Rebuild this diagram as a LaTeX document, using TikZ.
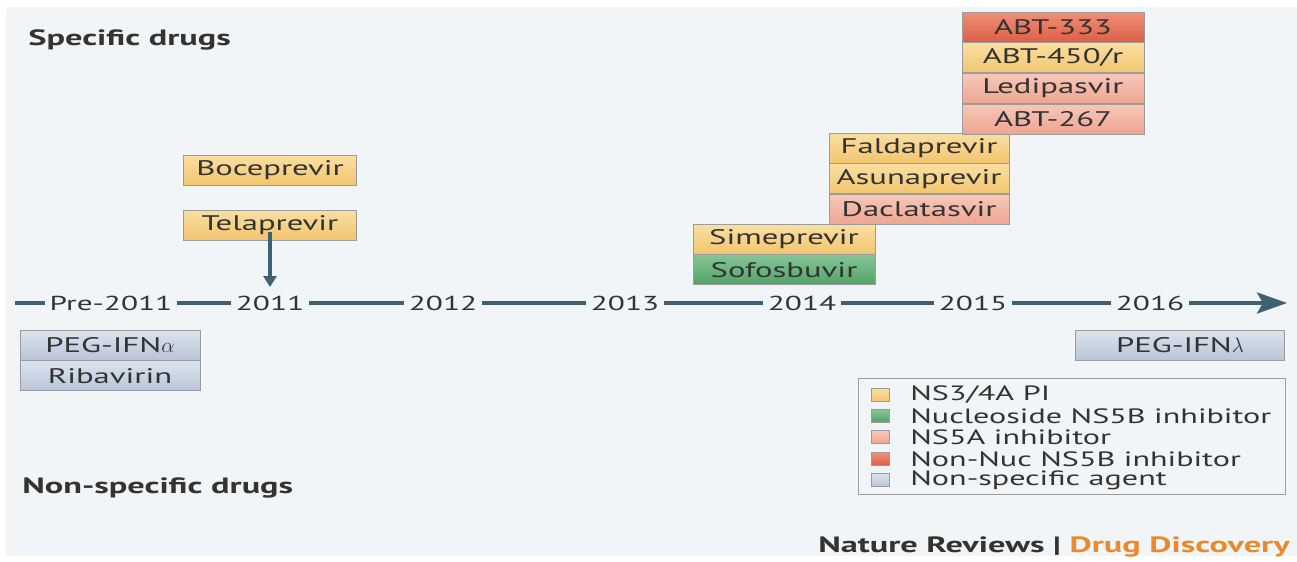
\documentclass[tikz,border=0pt]{standalone}
\usepackage{fontspec}
\setmainfont{PT Sans}[FakeStretch=1.55]
\usepackage{xcolor}
\usetikzlibrary{positioning,arrows.meta}

\definecolor{panel}{HTML}{F2F5F7}
\definecolor{txt}{HTML}{333333}
\definecolor{edge}{HTML}{9C9C9C}
\definecolor{axis}{HTML}{3E6070}
\definecolor{piTop}{HTML}{FADFA2}\definecolor{piBot}{HTML}{F2C56E}
\definecolor{nucTop}{HTML}{86C596}\definecolor{nucBot}{HTML}{52A368}
\definecolor{nsaTop}{HTML}{F7C7BA}\definecolor{nsaBot}{HTML}{EEA590}
\definecolor{nonTop}{HTML}{F09078}\definecolor{nonBot}{HTML}{DE5E46}
\definecolor{unsTop}{HTML}{DCE3EE}\definecolor{unsBot}{HTML}{B8C5D9}
\definecolor{brand}{HTML}{E88B2E}

\tikzset{
  drug/.style={draw=edge, rectangle, minimum height=0.6cm, inner sep=0pt,
    text=txt, font=\fontsize{12}{14}\selectfont},
  pi/.style={drug, top color=piTop, bottom color=piBot},
  nuc/.style={drug, top color=nucTop, bottom color=nucBot},
  nsa/.style={drug, top color=nsaTop, bottom color=nsaBot},
  nonnuc/.style={drug, top color=nonTop, bottom color=nonBot},
  unspec/.style={drug, top color=unsTop, bottom color=unsBot},
  year/.style={fill=panel, text=txt, inner xsep=0.1cm, inner ysep=2pt,
    font=\fontsize{11.5}{13}\selectfont},
  swatch/.style={draw=edge, minimum width=0.36cm, minimum height=0.26cm, inner sep=0pt},
  keytext/.style={anchor=west, text=txt, inner sep=0pt,
    font=\fontsize{11.8}{13}\selectfont},
  heading/.style={anchor=west, text=txt, inner sep=0pt,
    font=\bfseries\fontsize{12.6}{14}\selectfont}
}

\begin{document}
\begin{tikzpicture}[x=0.02cm, y=-0.02cm]
    % frame
    \fill[white] (0,0) rectangle (1297,561);
    \fill[panel] (6,7) rectangle (1297,556);
    \useasboundingbox (0,0) rectangle (1297,561);

    % axis
    \coordinate (tstart) at (15,303);
    \coordinate (tend) at (1287,303);
    \draw[axis, line width=2.3pt, -{Stealth[length=0.6cm, width=0.42cm, inset=0.12cm]}] (tstart) -- (tend);
    \node[year] (ypre) at (111,303) {Pre-2011};
    \node[year] (y11) at (270,303) {2011};
    \node[year] (y12) at (443,303) {2012};
    \node[year] (y13) at (625,303) {2013};
    \node[year] (y14) at (802,303) {2014};
    \node[year] (y15) at (973,303) {2015};
    \node[year] (y16) at (1150,303) {2016};

    % 2011
    \node[pi, minimum width=3.46cm] (bocep) at (270,170) {Boceprevir};
    \node[pi, minimum width=3.46cm] (telap) at (270,225) {Telaprevir};
    \coordinate (telapend) at (270,287);
    \draw[axis, line width=1.8pt, -{Triangle[length=0.22cm, width=0.26cm]}] (telap.south) ++(0,-8) -- (telapend);

    % 2014
    \node[pi, minimum width=3.64cm] (simep) at (784,239) {Simeprevir};
    \node[nuc, minimum width=3.64cm, below=0pt of simep] (sofos) {Sofosbuvir};

    % 2015
    \node[pi, minimum width=3.6cm] (faldap) at (919,148) {Faldaprevir};
    \node[pi, minimum width=3.6cm, below=0pt of faldap] (asunap) {Asunaprevir};
    \node[nsa, minimum width=3.6cm, below=0pt of asunap] (daclat) {Daclatasvir};

    % 2016
    \node[nonnuc, minimum width=3.64cm] (abt333) at (1053,27) {ABT-333};
    \node[pi, minimum width=3.64cm, below=0pt of abt333] (abt450) {ABT-450/r};
    \node[nsa, minimum width=3.64cm, below=0pt of abt450] (ledip) {Ledipasvir};
    \node[nsa, minimum width=3.64cm, below=0pt of ledip] (abt267) {ABT-267};

    % non-specific
    \node[unspec, minimum width=3.6cm] (pegalpha) at (110,345) {PEG-IFN$\alpha$};
    \node[unspec, minimum width=3.6cm, below=0pt of pegalpha] (ribav) {Ribavirin};
    \node[unspec, minimum width=4.18cm] (peglambda) at (1180,345) {PEG-IFN$\lambda$};

    % key
    \node[draw=edge, fill=panel, minimum width=8.54cm, minimum height=2.32cm, inner sep=0pt] (key) at (1071.5,436) {};
    \node[swatch, top color=piTop, bottom color=piBot] (sw1) at (880,395) {};
    \node[swatch, top color=nucTop, bottom color=nucBot] (sw2) at (880,416) {};
    \node[swatch, top color=nsaTop, bottom color=nsaBot] (sw3) at (880,437) {};
    \node[swatch, top color=nonTop, bottom color=nonBot] (sw4) at (880,459) {};
    \node[swatch, top color=unsTop, bottom color=unsBot] (sw5) at (880,480) {};
    \node[keytext] (k1) at (910,395) {NS3/4A PI};
    \node[keytext] (k2) at (910,416) {Nucleoside NS5B inhibitor};
    \node[keytext] (k3) at (910,437) {NS5A inhibitor};
    \node[keytext] (k4) at (910,459) {Non-Nuc NS5B inhibitor};
    \node[keytext] (k5) at (910,480) {Non-specific agent};

    % headings
    \node[heading] (spec) at (28,40) {Specific drugs};
    \node[heading] (nonspec) at (22,488) {Non-specific drugs};
    \node[anchor=east, inner sep=0pt, font=\bfseries\fontsize{12.6}{14}\selectfont] (brandline) at (1290,547)
        {\textcolor{txt}{Nature Reviews |} \textcolor{brand}{Drug Discovery}};
\end{tikzpicture}
\end{document}
